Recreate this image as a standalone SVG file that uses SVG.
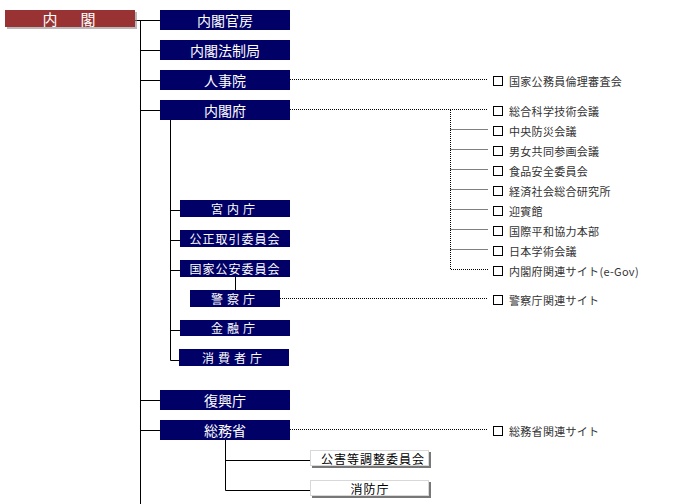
<svg xmlns="http://www.w3.org/2000/svg" width="680" height="504" viewBox="0 0 680 504">
<defs>
<style>
.nv{fill:#000066}
.nt{fill:#fff;font-family:"Noto Sans CJK JP","Noto Sans",sans-serif;font-size:14px;text-anchor:middle;dominant-baseline:central}
.st{fill:#fff;font-family:"Noto Sans CJK JP","Noto Sans",sans-serif;font-size:12px;text-anchor:middle;dominant-baseline:central;letter-spacing:1px}
.wt{fill:#000;font-family:"Noto Sans CJK JP","Noto Sans",sans-serif;font-size:12px;text-anchor:middle;dominant-baseline:central;letter-spacing:1px}
.lt{fill:#333;font-family:"Noto Sans CJK JP","Noto Sans",sans-serif;font-size:11px;dominant-baseline:central;letter-spacing:0.3px}
.sl{stroke:#000;stroke-width:1;fill:none}
.dl{stroke:#000;stroke-width:1;fill:none;stroke-dasharray:1 1}
.cb{fill:#fff;stroke:#000;stroke-width:1}
.wb{fill:#fff;stroke:#d8d8d8;stroke-width:1}
.sh{fill:#777}
</style>
</defs>
<g id="connectors">
<path class="sl" d="M135 20.5H160M140.5 20V504M140.5 50.5H160M140.5 80.5H160M140.5 110.5H160M140.5 400.5H160M140.5 430.5H160"/>
<path class="sl" d="M170.5 120V360.5H180M170.5 210.5H180M170.5 240.5H180M170.5 270.5H180M170.5 330.5H180"/>
<path class="sl" d="M235.5 277V290"/>
<path class="sl" d="M225.5 440V490.5H310M225.5 460.5H310"/>
<path class="dl" d="M290 79.5H488M290 109.5H488M450.5 110V269.5H488M450.5 129.5H488M450.5 149.5H488M450.5 169.5H488M450.5 189.5H488M450.5 209.5H488M450.5 229.5H488M450.5 249.5H488M280 298.5H488M290 429.5H488"/>
</g>
<g id="naikaku">
<rect x="7" y="12" width="130" height="17" fill="#888" opacity="0.6"/>
<rect x="5" y="10" width="130" height="17" fill="#993333"/>
<text x="50" y="18" class="nt" style="font-size:15px">内</text>
<text x="88" y="18" class="nt" style="font-size:15px">閣</text>
</g>
<g id="kanbou"><rect class="nv" x="160" y="10" width="130" height="20"/><text class="nt" x="225" y="19.5">内閣官房</text></g>
<g id="houseikyoku"><rect class="nv" x="160" y="40" width="130" height="20"/><text class="nt" x="225" y="49.5">内閣法制局</text></g>
<g id="jinjiin"><rect class="nv" x="160" y="70" width="130" height="20"/><text class="nt" x="225" y="79.5">人事院</text></g>
<g id="naikakufu"><rect class="nv" x="160" y="100" width="130" height="20"/><text class="nt" x="225" y="109.5">内閣府</text></g>
<g id="kunaichou"><rect class="nv" x="180" y="200" width="110" height="17"/><text class="st" x="235" y="208" style="letter-spacing:4px">宮内庁</text></g>
<g id="kouseitorihiki"><rect class="nv" x="180" y="230" width="110" height="17"/><text class="st" x="235" y="238">公正取引委員会</text></g>
<g id="kokkakouan"><rect class="nv" x="180" y="260" width="110" height="17"/><text class="st" x="235" y="268">国家公安委員会</text></g>
<g id="keisatsuchou"><rect class="nv" x="190" y="290" width="90" height="17"/><text class="st" x="235" y="298" style="letter-spacing:4px">警察庁</text></g>
<g id="kinyuuchou"><rect class="nv" x="180" y="320" width="110" height="16"/><text class="st" x="235" y="327.5" style="letter-spacing:4px">金融庁</text></g>
<g id="shouhishachou"><rect class="nv" x="179" y="349" width="110" height="17"/><text class="st" x="234" y="357" style="letter-spacing:4px">消費者庁</text></g>
<g id="fukkouchou"><rect class="nv" x="160" y="390" width="130" height="20"/><text class="nt" x="225" y="399.5">復興庁</text></g>
<g id="soumushou"><rect class="nv" x="160" y="420" width="130" height="20"/><text class="nt" x="225" y="429.5">総務省</text></g>
<g id="kougaitou"><rect class="sh" x="312" y="452" width="119" height="16"/><rect class="wb" x="310.5" y="450.5" width="118" height="15"/><text class="wt" x="373" y="458">公害等調整委員会</text></g>
<g id="shouboucho"><rect class="sh" x="312" y="482" width="119" height="16"/><rect class="wb" x="310.5" y="480.5" width="118" height="15"/><text class="wt" x="370" y="488">消防庁</text></g>
<g id="links">
<rect class="cb" x="493.5" y="76.5" width="9" height="9"/><text class="lt" x="509" y="81">国家公務員倫理審査会</text>
<rect class="cb" x="493.5" y="106.5" width="9" height="9"/><text class="lt" x="509" y="111">総合科学技術会議</text>
<rect class="cb" x="493.5" y="126.5" width="9" height="9"/><text class="lt" x="509" y="131">中央防災会議</text>
<rect class="cb" x="493.5" y="146.5" width="9" height="9"/><text class="lt" x="509" y="151">男女共同参画会議</text>
<rect class="cb" x="493.5" y="166.5" width="9" height="9"/><text class="lt" x="509" y="171">食品安全委員会</text>
<rect class="cb" x="493.5" y="186.5" width="9" height="9"/><text class="lt" x="509" y="191">経済社会総合研究所</text>
<rect class="cb" x="493.5" y="206.5" width="9" height="9"/><text class="lt" x="509" y="211">迎賓館</text>
<rect class="cb" x="493.5" y="226.5" width="9" height="9"/><text class="lt" x="509" y="231">国際平和協力本部</text>
<rect class="cb" x="493.5" y="246.5" width="9" height="9"/><text class="lt" x="509" y="251">日本学術会議</text>
<rect class="cb" x="493.5" y="266.5" width="9" height="9"/><text class="lt" x="509" y="271">内閣府関連サイト(e-Gov)</text>
<rect class="cb" x="493.5" y="295.5" width="9" height="9"/><text class="lt" x="509" y="300">警察庁関連サイト</text>
<rect class="cb" x="493.5" y="426.5" width="9" height="9"/><text class="lt" x="509" y="431">総務省関連サイト</text>
</g>
</svg>
